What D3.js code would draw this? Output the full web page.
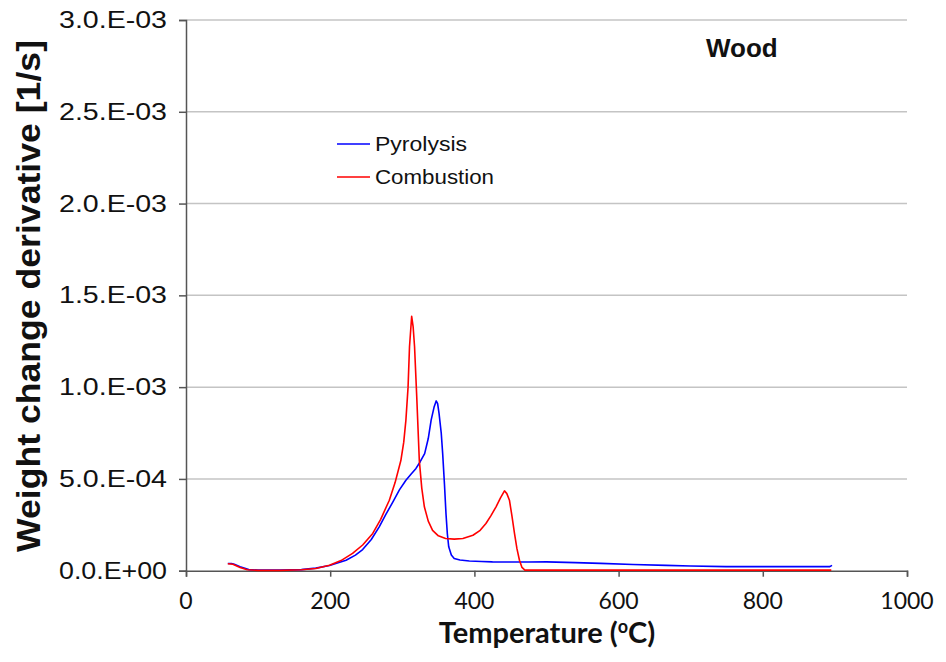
<!DOCTYPE html>
<html lang="en">
<head>
<meta charset="UTF-8" />
<title>Wood - weight change derivative</title>
<script src="https://d3js.org/d3.v7.min.js"></script>
<style>
  body { margin: 0; background: #fff; }
  svg { display: block; }
  .sans { font-family: "Liberation Sans", Arial, sans-serif; }
  .cal { font-family: Lato, "Open Sans", sans-serif; }
</style>
</head>
<body>
<div id="chart"></div>
<script>
// temperature (°C) and derivative values
const pyroT = [58, 63, 67, 75, 87, 100, 130, 160, 180, 199, 222, 235, 245, 257, 268, 277, 287, 296, 305, 312, 319, 325, 331, 336, 340, 344, 347, 349, 351, 354, 356, 358.5, 360.6, 362.5, 364.4, 368, 372, 380, 393, 410, 425, 450, 475, 500, 540, 575, 620, 666, 700, 749, 800, 850, 893, 896];
const pyroV = [3.9e-5, 3.9e-5, 3.5e-5, 2.2e-5, 6e-6, 3e-6, 3e-6, 6e-6, 1.4e-5, 2.8e-5, 5.7e-5, 8.5e-5, 1.15e-4, 1.7e-4, 2.39e-4, 3.05e-4, 3.75e-4, 4.4e-4, 4.93e-4, 5.25e-4, 5.57e-4, 5.95e-4, 6.38e-4, 7.2e-4, 8.2e-4, 8.9e-4, 9.25e-4, 9.1e-4, 8.56e-4, 7.5e-4, 6.38e-4, 4.7e-4, 3.1e-4, 2.0e-4, 1.3e-4, 8.5e-5, 6.6e-5, 5.8e-5, 5.3e-5, 5.0e-5, 4.8e-5, 4.7e-5, 4.7e-5, 4.8e-5, 4.4e-5, 4.0e-5, 3.4e-5, 2.9e-5, 2.6e-5, 2.2e-5, 2.2e-5, 2.2e-5, 2.2e-5, 2.9e-5];

const combT = [58, 65, 75, 85, 100, 130, 160, 180, 199, 215, 231, 245, 259, 270, 282, 290, 298, 302, 305, 308, 310, 313, 315, 317, 320, 323.6, 327, 330.6, 336, 342, 350, 360, 372, 384, 398, 408, 416, 423, 430, 436, 441.7, 445, 448.6, 452, 455.6, 459, 462.5, 466, 470, 500, 600, 700, 800, 895];
const combV = [3.8e-5, 3.5e-5, 1.8e-5, 5e-6, 2e-6, 2e-6, 5e-6, 1.2e-5, 3.0e-5, 5.5e-5, 9.4e-5, 1.4e-4, 2.03e-4, 2.8e-4, 3.84e-4, 4.8e-4, 6.0e-4, 7.0e-4, 8.2e-4, 1.0e-3, 1.22e-3, 1.386e-3, 1.33e-3, 1.22e-3, 9.5e-4, 6.0e-4, 4.5e-4, 3.48e-4, 2.7e-4, 2.2e-4, 1.9e-4, 1.75e-4, 1.72e-4, 1.75e-4, 1.93e-4, 2.2e-4, 2.57e-4, 3.0e-4, 3.48e-4, 3.95e-4, 4.35e-4, 4.2e-4, 3.84e-4, 3.0e-4, 2.03e-4, 1.2e-4, 5.7e-5, 1.8e-5, 3e-6, 3e-6, 3e-6, 3e-6, 3e-6, 3e-6];

const xTicks = [0, 200, 400, 600, 800, 1000];
const yTicks = [0, 5e-4, 1e-3, 1.5e-3, 2e-3, 2.5e-3, 3e-3];
const yTickLabels = ["0.0.E+00", "5.0.E-04", "1.0.E-03", "1.5.E-03", "2.0.E-03", "2.5.E-03", "3.0.E-03"];
const seriesNames = ["Pyrolysis", "Combustion"];
const seriesColors = ["#0000ff", "#ff0000"];

const W = 946, H = 662;
const svg = d3.select('#chart').append('svg').attr('width', W).attr('height', H);

const x = d3.scaleLinear().domain([0, 1000]).range([186, 907]);
const y = d3.scaleLinear().domain([0, 3e-3]).range([570.7, 20]);

// grid
svg.append('g').selectAll('line').data(yTicks.slice(1)).join('line')
  .attr('x1', x(0)).attr('x2', x(1000))
  .attr('y1', d => y(d)).attr('y2', d => y(d))
  .attr('stroke', '#c4c4c4').attr('stroke-width', 1.5);

// y axis
const yAxis = d3.axisLeft(y).tickValues(yTicks).tickSize(7).tickFormat('');
const gy = svg.append('g').attr('transform', `translate(${x(0)},0)`).call(yAxis);
gy.select('.domain').attr('stroke', '#555').attr('stroke-width', 1.5);
gy.selectAll('.tick line').attr('stroke', '#555').attr('stroke-width', 1.5);
svg.append('g').selectAll('text').data(yTicks).join('text')
  .attr('class', 'sans')
  .attr('x', 167).attr('y', d => y(d) + 8)
  .attr('text-anchor', 'end')
  .attr('font-size', 23).attr('fill', '#111')
  .attr('textLength', 108).attr('lengthAdjust', 'spacingAndGlyphs')
  .text((d, i) => yTickLabels[i]);

// x axis
const xAxis = d3.axisBottom(x).tickValues(xTicks).tickSize(6).tickFormat('');
const gx = svg.append('g').attr('transform', `translate(0,${y(0)})`).call(xAxis);
gx.select('.domain').attr('stroke', '#555').attr('stroke-width', 1.5);
gx.selectAll('.tick line').attr('stroke', '#555').attr('stroke-width', 1.5);
svg.append('g').selectAll('text').data(xTicks).join('text')
  .attr('class', 'cal')
  .attr('x', d => x(d)).attr('y', 609)
  .attr('text-anchor', 'middle')
  .attr('font-size', 23).attr('fill', '#111')
  .text(d => d);

// lines (red drawn last, on top)
const line = d3.line().x(d => x(d[0])).y(d => y(d[1]));
const series = [d3.zip(pyroT, pyroV), d3.zip(combT, combV)];
[0, 1].forEach(i => {
  svg.append('path').datum(series[i])
    .attr('d', line).attr('fill', 'none')
    .attr('stroke', seriesColors[i]).attr('stroke-width', 1.6)
    .attr('stroke-linejoin', 'round');
});

// legend
const legWidths = [92, 119];
const leg = svg.append('g');
seriesNames.forEach((name, i) => {
  const ly = 144 + i * 33;
  leg.append('line').attr('x1', 337).attr('x2', 370).attr('y1', ly).attr('y2', ly)
    .attr('stroke', seriesColors[i]).attr('stroke-width', 1.5);
  leg.append('text').attr('class', 'sans').attr('x', 375).attr('y', ly + 7)
    .attr('font-size', 20.5).attr('fill', '#111')
    .attr('textLength', legWidths[i]).attr('lengthAdjust', 'spacingAndGlyphs')
    .text(name);
});

// panel label
svg.append('text').attr('class', 'sans').attr('x', 706).attr('y', 57)
  .attr('font-size', 26).attr('font-weight', 'bold').attr('fill', '#111').text('Wood');

// axis titles
const xt = svg.append('text').attr('class', 'cal').attr('x', 547).attr('y', 643)
  .attr('text-anchor', 'middle').attr('font-size', 29).attr('font-weight', 'bold').attr('fill', '#111');
xt.append('tspan').text('Temperature (');
xt.append('tspan').attr('font-size', 18).attr('dy', -10).text('o');
xt.append('tspan').attr('dy', 10).text('C)');

svg.append('text').attr('class', 'sans')
  .attr('transform', 'translate(40,296) rotate(-90)')
  .attr('text-anchor', 'middle').attr('font-size', 33).attr('font-weight', 'bold')
  .attr('fill', '#111').attr('textLength', 512).attr('lengthAdjust', 'spacingAndGlyphs')
  .text('Weight change derivative [1/s]');
</script>
</body>
</html>
